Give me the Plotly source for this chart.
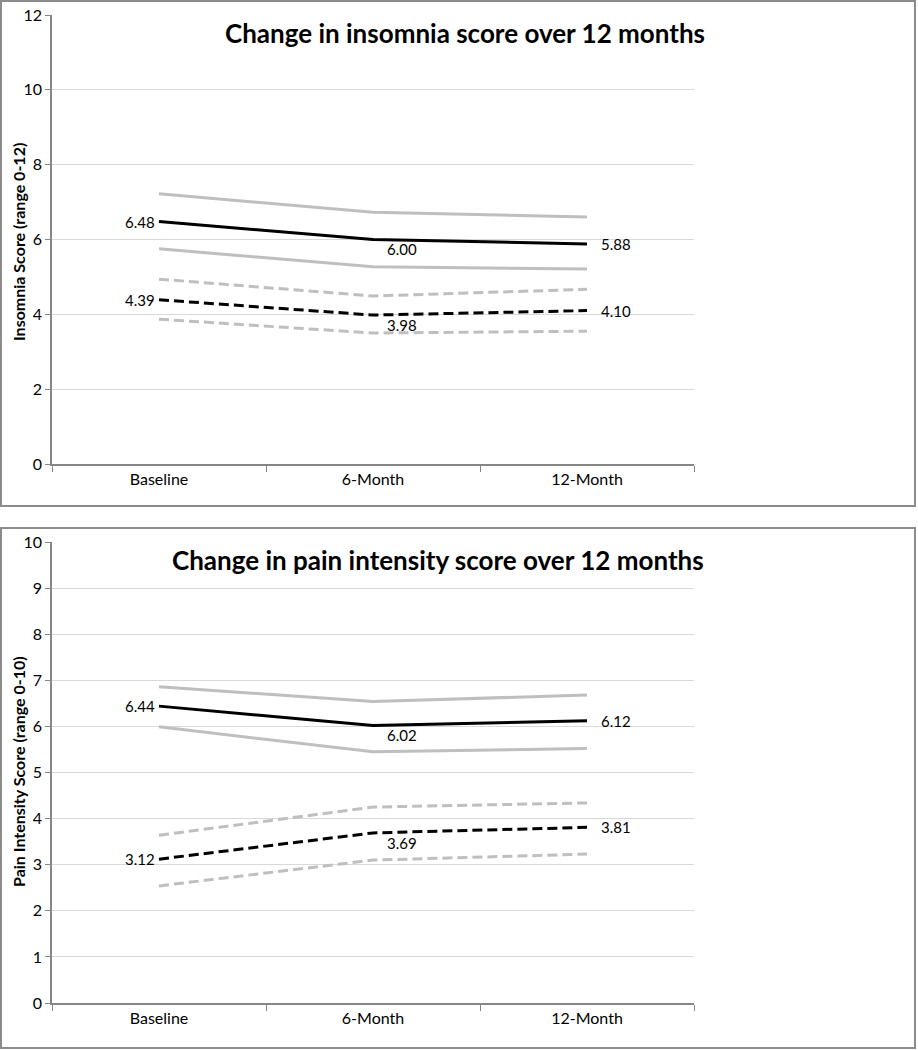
import plotly.graph_objects as go

categories = ["Baseline", "6-Month", "12-Month"]

# Insomnia panel
ins_mean_solid = [6.48, 6.00, 5.88]
ins_upper_solid = [7.22, 6.73, 6.60]
ins_lower_solid = [5.75, 5.27, 5.21]
ins_mean_dash = [4.39, 3.98, 4.10]
ins_upper_dash = [4.94, 4.49, 4.67]
ins_lower_dash = [3.87, 3.50, 3.55]

# Pain panel
pain_mean_solid = [6.44, 6.02, 6.12]
pain_upper_solid = [6.86, 6.54, 6.68]
pain_lower_solid = [5.99, 5.45, 5.52]
pain_mean_dash = [3.12, 3.69, 3.81]
pain_upper_dash = [3.64, 4.25, 4.34]
pain_lower_dash = [2.54, 3.10, 3.23]

W, H = 918, 1050
FONT = "Lato"
GRAY = "#bfbfbf"
AXIS = "#868686"
GRID = "#d9d9d9"

fig = go.Figure()

def add_panel(xa, ya, mean_s, up_s, lo_s, mean_d, up_d, lo_d):
    for ys, col, dash in [(up_s, GRAY, "solid"), (lo_s, GRAY, "solid"),
                          (up_d, GRAY, "10px,5px"), (lo_d, GRAY, "10px,5px"),
                          (mean_s, "black", "solid"), (mean_d, "black", "10px,5px")]:
        fig.add_trace(go.Scatter(x=categories, y=ys, mode="lines",
                                 line=dict(color=col, width=3, dash=dash),
                                 xaxis=xa, yaxis=ya, showlegend=False, hoverinfo="skip"))
    for ys in (mean_s, mean_d):
        fmt = ["%.2f" % v for v in ys]
        fig.add_annotation(x=categories[0], y=ys[0], xref=xa, yref=ya, text=fmt[0],
                           showarrow=False, xanchor="right", yanchor="middle", xshift=-2,
                           font=dict(family=FONT, size=15, color="black"))
        fig.add_annotation(x=categories[1], y=ys[1], xref=xa, yref=ya, text=fmt[1],
                           showarrow=False, xanchor="left", yanchor="top", xshift=12, yshift=1,
                           font=dict(family=FONT, size=15, color="black"))
        fig.add_annotation(x=categories[2], y=ys[2], xref=xa, yref=ya, text=fmt[2],
                           showarrow=False, xanchor="left", yanchor="middle", xshift=12,
                           font=dict(family=FONT, size=15, color="black"))

add_panel("x", "y", ins_mean_solid, ins_upper_solid, ins_lower_solid,
          ins_mean_dash, ins_upper_dash, ins_lower_dash)
add_panel("x2", "y2", pain_mean_solid, pain_upper_solid, pain_lower_solid,
          pain_mean_dash, pain_upper_dash, pain_lower_dash)

xdom = [52 / W, 694 / W]
xcommon = dict(domain=xdom, type="category", range=[-0.5, 2.5], showline=True,
               linecolor=AXIS, linewidth=1.5, ticks="outside", tickson="boundaries",
               ticklen=6, tickcolor=AXIS, showgrid=False,
               tickfont=dict(family=FONT, size=16, color="black"), fixedrange=True)
ycommon = dict(showline=True, linecolor=AXIS, linewidth=1.5, ticks="outside", ticklen=5,
               tickcolor=AXIS, showgrid=True, gridcolor=GRID, gridwidth=1, zeroline=False,
               tickfont=dict(family=FONT, size=16, color="black"), fixedrange=True)

fig.update_layout(
    width=W, height=H, margin=dict(l=0, r=0, t=0, b=0, autoexpand=False),
    paper_bgcolor="white", plot_bgcolor="white",
    xaxis=dict(**xcommon, anchor="y"),
    yaxis=dict(**ycommon, domain=[1 - 464 / H, 1 - 15 / H], range=[0, 12], dtick=2,
               anchor="x"),
    xaxis2=dict(**xcommon, anchor="y2"),
    yaxis2=dict(**ycommon, domain=[1 - 1003 / H, 1 - 542 / H], range=[0, 10], dtick=1,
                anchor="x2"),
)

fig.add_shape(type="rect", xref="paper", yref="paper", x0=1 / W, x1=915 / W,
              y0=1 - 506 / H, y1=1 - 1 / H, line=dict(color="#8c8c8c", width=2))
fig.add_shape(type="rect", xref="paper", yref="paper", x0=1 / W, x1=915 / W,
              y0=1 - 1048 / H, y1=1 - 528 / H, line=dict(color="#8c8c8c", width=2))

fig.add_annotation(xref="paper", yref="paper", x=465 / W, y=1 - 33 / H,
                   text="<b>Change in insomnia score over 12 months</b>", showarrow=False,
                   xanchor="center", yanchor="middle",
                   font=dict(family=FONT, size=26, color="black"))
fig.add_annotation(xref="paper", yref="paper", x=438 / W, y=1 - 560 / H,
                   text="<b>Change in pain intensity score over 12 months</b>", showarrow=False,
                   xanchor="center", yanchor="middle",
                   font=dict(family=FONT, size=26, color="black"))

fig.add_annotation(xref="paper", yref="paper", x=18 / W, y=1 - 242 / H,
                   text="<b>Insomnia Score (range 0-12)</b>", showarrow=False, textangle=-90,
                   xanchor="center", yanchor="middle",
                   font=dict(family=FONT, size=16, color="black"))
fig.add_annotation(xref="paper", yref="paper", x=18 / W, y=1 - 772 / H,
                   text="<b>Pain Intensity Score (range 0-10)</b>", showarrow=False, textangle=-90,
                   xanchor="center", yanchor="middle",
                   font=dict(family=FONT, size=16, color="black"))

fig.write_html("out.html", config={"displayModeBar": False},
               post_script="document.body.style.margin='0';document.body.style.padding='0';")
